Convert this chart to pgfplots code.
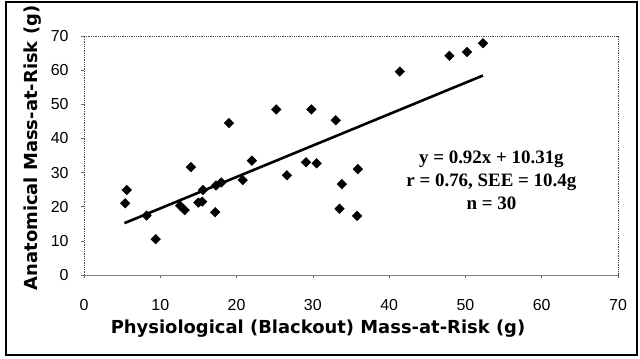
\documentclass[border=0pt]{standalone}
\usepackage{fontspec}
\setmainfont{Liberation Sans}
\newfontfamily\labelfont{DejaVu Sans}
\newfontfamily\serifb{Liberation Serif}
\usepackage{pgfplots}
\pgfplotsset{compat=1.18}
\begin{document}
\begin{tikzpicture}[x=1bp,y=1bp]
\useasboundingbox (0,0) rectangle (640,358);
\draw[line width=2bp] (6,3) rectangle (637,356);
\begin{axis}[at={(84bp,83bp)}, anchor=south west, scale only axis,
  width=534bp, height=239bp,
  xmin=0, xmax=70, ymin=0, ymax=70,
  xtick={0,10,...,70}, ytick={0,10,...,70},
  tick align=outside, xtick pos=left, ytick pos=left,
  major tick length=3bp,
  tick style={black!60, line width=0.6bp},
  axis line style={black!70, densely dotted, line width=0.8bp},
  /pgf/number format/assume math mode=true,
  tick label style={font=\fontsize{16}{18}\selectfont},
  xticklabel style={yshift=-18bp},
  yticklabel style={xshift=-9bp},
  clip=false]
\draw[black!50, line width=1bp] (rel axis cs:0,0) -- (rel axis cs:1,0);
\addplot[only marks, mark=square*, mark size=3.4bp, mark options={rotate=45, fill=black, draw=black}] coordinates {
(5.6,24.9) (5.4,21.0) (8.2,17.4) (9.4,10.5) (12.6,20.3) (13.2,19.0)
(14.0,31.6) (15.0,21.2) (15.5,21.5) (15.6,24.9) (17.2,18.4) (17.3,26.2)
(18.0,27.1) (19.0,44.5) (20.8,27.8) (22.0,33.5) (25.2,48.5) (26.6,29.2)
(29.1,33.0) (29.8,48.5) (30.5,32.7) (33.0,45.3) (33.5,19.4) (33.8,26.6)
(35.9,31.0) (35.8,17.3) (41.4,59.6) (47.9,64.2) (50.2,65.3) (52.3,67.9)
};
\addplot[black, line width=2.6bp] coordinates {(5.3,15.19) (52.3,58.43)};
\node[font=\serifb\bfseries\fontsize{19}{23}\selectfont, align=center] at (axis cs:53.4,27.8)
  {y = 0.92x + 10.31g\\r = 0.76, SEE = 10.4g\\n = 30};
\end{axis}
\node[font=\labelfont\bfseries\fontsize{18}{21}\selectfont] at (318,29) {Physiological (Blackout) Mass-at-Risk (g)};
\node[font=\labelfont\bfseries\fontsize{18}{21}\selectfont, rotate=90] at (33,210) {Anatomical Mass-at-Risk (g)};
\end{tikzpicture}
\end{document}
